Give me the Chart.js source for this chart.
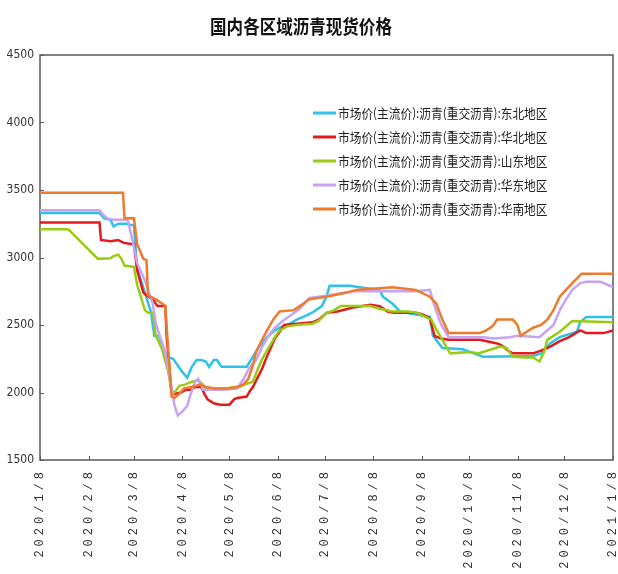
<!DOCTYPE html>
<html><head><meta charset="utf-8">
<script src="https://cdn.jsdelivr.net/npm/chart.js@4/dist/chart.umd.min.js"></script>
<style>html,body{margin:0;padding:0;background:#fff}#wrap{width:618px;height:574px}</style>
</head><body><div id="wrap"><canvas id="c" width="618" height="574"></canvas></div>
<script>
const chartTitle = '国内各区域沥青现货价格';
const seriesNames = [
  '市场价(主流价):沥青(重交沥青):东北地区',
  '市场价(主流价):沥青(重交沥青):华北地区',
  '市场价(主流价):沥青(重交沥青):山东地区',
  '市场价(主流价):沥青(重交沥青):华东地区',
  '市场价(主流价):沥青(重交沥青):华南地区'
];
const seriesColors = ['#2cc2ea', '#e41a1c', '#9acb14', '#c8a2f4', '#ee7a2c'];
const xTickLabels = ['2020/1/8','2020/2/8','2020/3/8','2020/4/8','2020/5/8','2020/6/8','2020/7/8','2020/8/8','2020/9/8','2020/10/8','2020/11/8','2020/12/8','2021/1/8'];
const yTickValues = [1500, 2000, 2500, 3000, 3500, 4000, 4500];

// x values: days since 2020/1/8
const dongbeiDays = [0,38,41,45,47,50,55,58,60,62,67,71,73,76,79,82,85,88,91,94,97,100,103,106,108,111,113,116,128,132,136,140,145,150,153,158,164,170,175,180,183,185,198,204,217,219,225,230,249,251,257,270,283,315,320,326,332,343,345,349,366];
const dongbeiVals = [3330,3330,3290,3280,3230,3250,3250,3240,3240,2920,2740,2590,2420,2420,2320,2260,2250,2200,2150,2110,2190,2240,2240,2230,2190,2240,2240,2190,2190,2190,2265,2340,2410,2460,2480,2500,2540,2570,2600,2640,2710,2790,2790,2780,2760,2710,2660,2600,2560,2420,2330,2320,2265,2270,2290,2365,2410,2450,2520,2560,2560];

const huabeiDays = [0,38,39,45,50,53,58,60,62,66,68,72,75,80,81,84,86,90,93,96,99,103,105,107,111,115,121,124,126,132,134,136,139,142,144,147,150,153,156,164,174,178,183,190,200,211,217,222,226,240,244,249,252,256,261,281,289,293,296,299,302,315,320,326,332,338,345,349,360,366];
const huabeiVals = [3260,3260,3130,3120,3130,3110,3100,3100,2910,2740,2720,2690,2640,2640,2400,2000,1990,2000,2020,2020,2040,2040,1990,1950,1920,1910,1910,1950,1960,1970,2010,2040,2110,2180,2240,2320,2400,2450,2500,2510,2520,2540,2590,2600,2630,2650,2640,2600,2590,2590,2580,2550,2420,2400,2390,2390,2370,2360,2340,2310,2290,2290,2310,2340,2380,2410,2460,2440,2440,2460];

const shandongDays = [0,18,37,45,47,50,52,54,60,62,67,69,72,74,78,82,84,86,89,93,97,101,104,106,119,124,128,132,136,139,142,145,150,153,158,164,174,178,183,188,192,211,217,225,235,241,246,250,253,257,262,274,280,287,294,298,302,310,315,319,322,324,332,340,366];
const shandongVals = [3210,3210,2990,2995,3010,3020,2990,2940,2930,2800,2610,2590,2590,2420,2320,2150,2010,2000,2050,2060,2080,2090,2060,2030,2030,2040,2045,2065,2080,2170,2250,2310,2410,2460,2490,2500,2510,2530,2590,2610,2640,2640,2620,2600,2600,2590,2560,2540,2470,2390,2290,2300,2290,2315,2340,2330,2265,2260,2260,2230,2300,2390,2450,2530,2520];

const huadongDays = [0,38,40,43,47,56,60,62,67,72,74,77,80,83,86,88,91,94,96,99,101,103,104,118,126,130,134,138,142,146,150,155,160,166,172,178,185,195,200,240,249,252,256,261,283,290,300,305,319,323,328,332,336,340,345,349,358,362,366];
const huadongVals = [3350,3350,3320,3290,3280,3280,3080,2960,2830,2660,2510,2400,2300,2100,1900,1830,1860,1900,1980,2080,2100,2060,2020,2020,2030,2100,2190,2240,2340,2420,2480,2530,2570,2620,2700,2710,2720,2740,2750,2750,2760,2640,2510,2410,2410,2400,2410,2420,2410,2450,2500,2610,2690,2760,2810,2820,2820,2800,2780];

const huananDays = [0,53,54,60,62,66,68,69,74,78,80,82,84,86,89,92,96,100,102,106,112,120,126,130,133,136,138,141,145,149,153,162,166,172,183,196,202,225,240,249,253,257,261,281,285,289,292,302,305,307,311,315,320,324,328,332,336,340,346,366];
const huananVals = [3480,3480,3290,3290,3100,2990,2980,2720,2690,2660,2640,2300,1970,1960,1990,2030,2040,2050,2060,2040,2030,2030,2040,2060,2100,2200,2300,2370,2460,2540,2600,2610,2640,2690,2710,2740,2760,2780,2760,2710,2660,2540,2440,2440,2460,2490,2540,2540,2500,2420,2450,2480,2500,2540,2610,2710,2760,2810,2880,2880];

const seriesDays = [dongbeiDays, huabeiDays, shandongDays, huadongDays, huananDays];
const seriesVals = [dongbeiVals, huabeiVals, shandongVals, huadongVals, huananVals];

const day0 = Date.UTC(2020, 0, 8);
function labelToDay(s) {
  const p = s.split('/').map(Number);
  return Math.round((Date.UTC(p[0], p[1] - 1, p[2]) - day0) / 86400000);
}
const xTickDays = xTickLabels.map(labelToDay);

const datasets = seriesNames.map((name, i) => ({
  label: name,
  data: seriesDays[i].map((d, j) => ({ x: d, y: seriesVals[i][j] })),
  borderColor: seriesColors[i],
  backgroundColor: seriesColors[i],
  borderWidth: 2.5,
  pointRadius: 0,
  tension: 0,
  fill: false,
  order: seriesNames.length - i
}));

const decor = {
  id: 'decor',
  beforeDatasetsDraw(chart) {
    const ctx = chart.ctx, a = chart.chartArea;
    const xs = chart.scales.x, ys = chart.scales.y;
    ctx.save();
    ctx.strokeStyle = '#5a5a5a';
    ctx.lineWidth = 1.5;
    ctx.strokeRect(a.left, a.top, a.right - a.left, a.bottom - a.top);
    ctx.lineWidth = 1;
    ctx.beginPath();
    yTickValues.forEach(v => {
      const y = Math.round(ys.getPixelForValue(v)) + 0.5;
      ctx.moveTo(a.left, y); ctx.lineTo(a.left + 4, y);
    });
    xTickDays.forEach(d => {
      const x = Math.round(xs.getPixelForValue(d)) + 0.5;
      ctx.moveTo(x, a.bottom); ctx.lineTo(x, a.bottom - 4);
    });
    ctx.stroke();
    ctx.restore();
  },
  afterDraw(chart) {
    const ctx = chart.ctx, a = chart.chartArea;
    const xs = chart.scales.x;
    ctx.save();
    // title
    ctx.fillStyle = '#111';
    ctx.font = 'bold 19px "Noto Sans CJK SC"';
    ctx.textAlign = 'center';
    ctx.textBaseline = 'middle';
    ctx.save();
    ctx.translate(301, 27);
    ctx.scale(0.87, 1);
    ctx.fillText(chartTitle, 0, 0);
    ctx.restore();
    // x labels, rotated
    ctx.font = '12px "Liberation Mono", "DejaVu Sans Mono", monospace';
    ctx.fillStyle = '#333';
    ctx.textAlign = 'right';
    ctx.textBaseline = 'middle';
    try { ctx.letterSpacing = '4px'; } catch (e) {}
    xTickLabels.forEach((lab, i) => {
      const x = xs.getPixelForValue(xTickDays[i]);
      ctx.save();
      ctx.translate(x, a.bottom + 8);
      ctx.rotate(-Math.PI / 2);
      ctx.fillText(lab, 0, 0);
      ctx.restore();
    });
    try { ctx.letterSpacing = '0px'; } catch (e) {}
    // legend
    const lx = 313, ly0 = 113, dy = 24;
    chart.data.datasets.forEach((ds, i) => {
      const y = ly0 + i * dy;
      ctx.strokeStyle = ds.borderColor;
      ctx.lineWidth = 3;
      ctx.beginPath();
      ctx.moveTo(lx, y); ctx.lineTo(lx + 23, y);
      ctx.stroke();
      ctx.save();
      ctx.translate(lx + 25, y);
      ctx.scale(0.9, 1);
      ctx.font = '13px "Noto Sans CJK SC"';
      ctx.fillStyle = '#222';
      ctx.textAlign = 'left';
      ctx.textBaseline = 'middle';
      ctx.fillText(ds.label, 0, 0);
      ctx.restore();
    });
    ctx.restore();
  }
};

new Chart(document.getElementById('c'), {
  type: 'line',
  data: { datasets },
  options: {
    responsive: false,
    animation: false,
    devicePixelRatio: 1,
    layout: { padding: { left: 0, right: 5, top: 55, bottom: 114 } },
    plugins: { legend: { display: false }, title: { display: false }, tooltip: { enabled: false } },
    scales: {
      x: {
        type: 'linear', min: 0, max: 366,
        grid: { display: false, drawTicks: false },
        border: { display: false },
        ticks: { display: false },
        afterFit(s) { s.height = 0; }
      },
      y: {
        min: 1500, max: 4500,
        grid: { display: false, drawTicks: false },
        border: { display: false },
        ticks: {
          stepSize: 500, padding: 6, color: '#333',
          font: { family: '"Liberation Sans Narrow", "DejaVu Sans Condensed", "Liberation Sans"', size: 12 },
          callback: v => String(v)
        },
        afterBuildTicks(s) { s.ticks = yTickValues.map(v => ({ value: v })); },
        afterFit(s) { s.width = 40; }
      }
    }
  },
  plugins: [decor]
});
</script>
</body></html>
